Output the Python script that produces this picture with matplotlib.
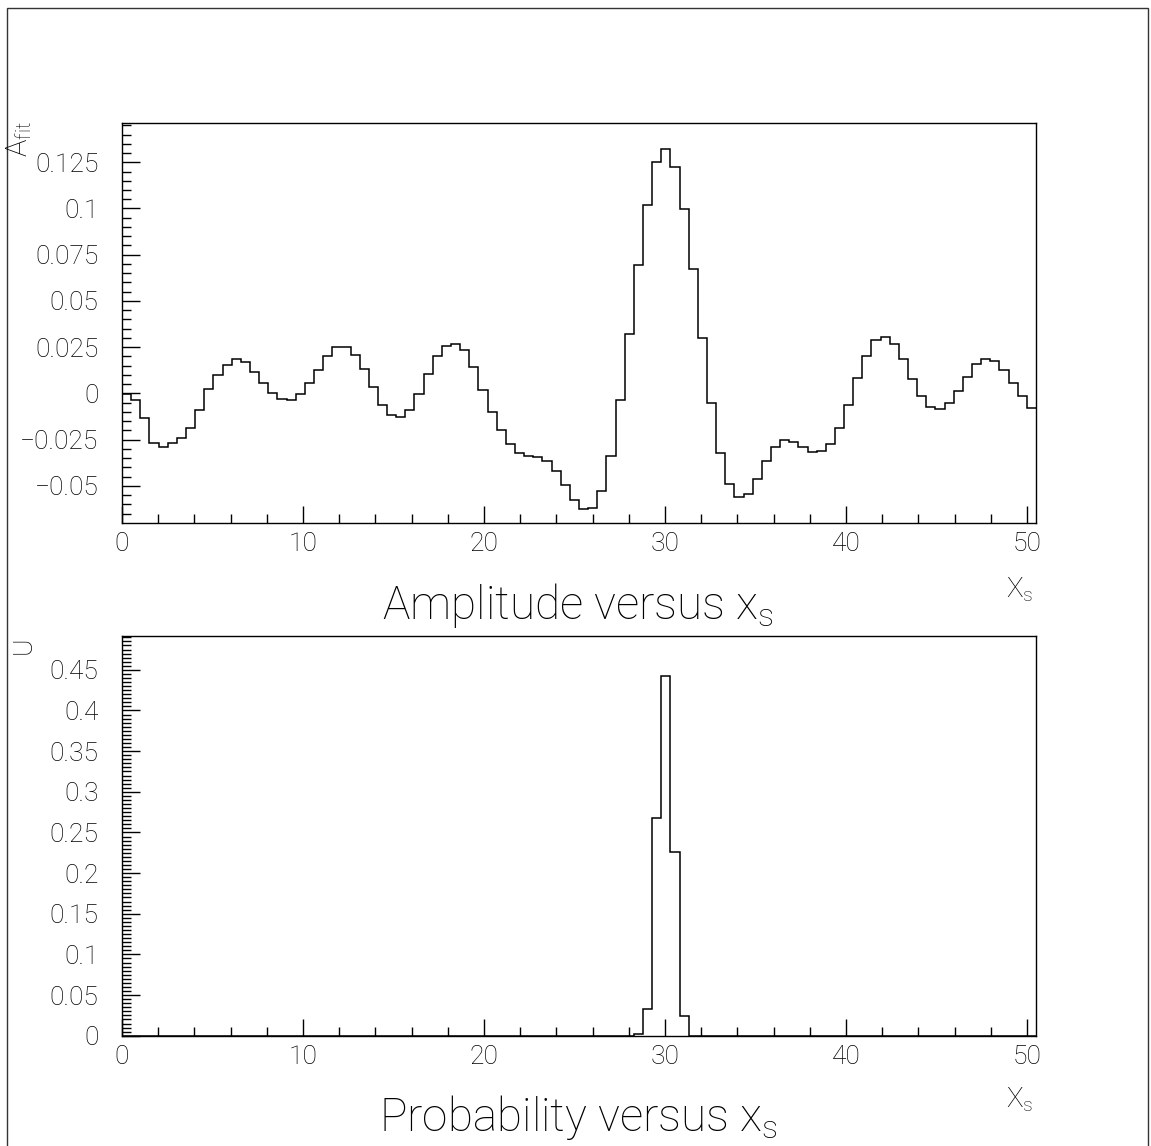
import numpy as np
import matplotlib
matplotlib.use('Agg')
import matplotlib.pyplot as plt
from matplotlib.patches import Rectangle
from matplotlib.ticker import MultipleLocator

plt.rcParams['font.family'] = ['Roboto', 'DejaVu Sans']
plt.rcParams['font.weight'] = 'light'
plt.rcParams['text.color'] = 'black'

# binning of the x_s axis
x_min, x_max, n_bins = 0.0, 50.5, 100

# fitted amplitude, one value per bin
amplitude = [
    -0.0005, -0.0036, -0.0135, -0.0267, -0.0292, -0.0267, -0.0242, -0.0189, -0.0088, 0.0022,
    0.0101, 0.0153, 0.0184, 0.0168, 0.0117, 0.0054, 0.0004, -0.0032, -0.0038, -0.0005,
    0.0054, 0.0126, 0.0200, 0.0251, 0.0251, 0.0206, 0.0130, 0.0036, -0.0061, -0.0119,
    -0.0130, -0.0088, -0.0005, 0.0103, 0.0204, 0.0258, 0.0269, 0.0233, 0.0142, 0.0020,
    -0.0099, -0.0200, -0.0272, -0.0321, -0.0339, -0.0346, -0.0363, -0.0417, -0.0494, -0.0575,
    -0.0626, -0.0619, -0.0528, -0.0337, -0.0038, 0.0323, 0.0694, 0.1021, 0.1250, 0.1320,
    0.1225, 0.0997, 0.0673, 0.0301, -0.0052, -0.0323, -0.0491, -0.0559, -0.0545, -0.0465,
    -0.0366, -0.0289, -0.0253, -0.0260, -0.0292, -0.0316, -0.0314, -0.0272, -0.0189, -0.0061,
    0.0085, 0.0204, 0.0287, 0.0305, 0.0267, 0.0184, 0.0076, -0.0014, -0.0074, -0.0085,
    -0.0052, 0.0014, 0.0090, 0.0157, 0.0188, 0.0177, 0.0128, 0.0058, -0.0014, -0.0081,
]

# probability: non-zero only in bins 56..61
prob_bins = [56, 57, 58, 59, 60, 61]
prob_vals = [0.002, 0.033, 0.268, 0.443, 0.226, 0.024]

amp_yticks = [-0.05, -0.025, 0, 0.025, 0.05, 0.075, 0.1, 0.125]
amp_ylabels = ['\u22120.05', '\u22120.025', '0', '0.025', '0.05', '0.075', '0.1', '0.125']
prob_yticks = [0, 0.05, 0.1, 0.15, 0.2, 0.25, 0.3, 0.35, 0.4, 0.45]
prob_ylabels = ['0', '0.05', '0.1', '0.15', '0.2', '0.25', '0.3', '0.35', '0.4', '0.45']
xticks = [0, 10, 20, 30, 40, 50]

edges = np.linspace(x_min, x_max, n_bins + 1)
probability = np.zeros(n_bins)
probability[prob_bins] = prob_vals

W, H = 1151, 1146
fig = plt.figure(figsize=(W / 100, H / 100), dpi=100)

# outer pad frame
fig.add_artist(Rectangle((7.5 / W, -0.01), (1148 - 7.5) / W, 1.01 - 7.5 / H,
                         transform=fig.transFigure, fill=False,
                         edgecolor='#333333', linewidth=1.0))

ax1 = fig.add_axes([122 / W, 1 - 522.5 / H, 914 / W, 400 / H])
ax2 = fig.add_axes([122 / W, 1 - 1035.7 / H, 914 / W, 400 / H])


def style(ax, yticks, ylabels, yminor):
    ax.set_xlim(x_min, x_max)
    ax.set_xticks(xticks)
    ax.set_xticklabels([str(t) for t in xticks])
    ax.xaxis.set_minor_locator(MultipleLocator(2))
    ax.set_yticks(yticks)
    ax.set_yticklabels(ylabels)
    ax.yaxis.set_minor_locator(MultipleLocator(yminor))
    ax.tick_params(which='both', direction='in', top=False, right=False,
                   width=1.0, labelsize=19, labelcolor='black')
    ax.tick_params(axis='x', which='major', length=12.5, pad=7)
    ax.tick_params(axis='x', which='minor', length=6.5)
    ax.tick_params(axis='y', which='major', length=13, pad=17)
    ax.tick_params(axis='y', which='minor', length=6.5)
    for s in ax.spines.values():
        s.set_linewidth(1.0)


ax1.stairs(amplitude, edges, color='black', linewidth=1.1, baseline=None)
ax1.set_ylim(-0.0698, 0.1465)
style(ax1, amp_yticks, amp_ylabels, 0.005)

ax2.stairs(probability, edges, color='black', linewidth=1.1, baseline=None)
ax2.set_ylim(0, 0.492)
style(ax2, prob_yticks, prob_ylabels, 0.005)

# axis titles, ROOT style
fig.text(1020 / W, 1 - 590 / H, r'X$_\mathregular{s}$', fontsize=20, ha='center', va='center')
fig.text(1020 / W, 1 - 1100 / H, r'X$_\mathregular{s}$', fontsize=20, ha='center', va='center')
fig.text(19 / W, 1 - 121 / H, r'A$_\mathregular{fit}$', fontsize=21, rotation=90,
         ha='center', va='top')
fig.text(24 / W, 1 - 636 / H, 'U', fontsize=19, rotation=90, ha='center', va='top')

fig.text(578 / W, 1 - 606 / H, r'Amplitude versus x$_\mathregular{s}$', fontsize=33,
         ha='center', va='center')
fig.text(578 / W, 1 - 1117 / H, r'Probability versus x$_\mathregular{s}$', fontsize=33,
         ha='center', va='center')

fig.savefig('out.png', dpi=100)
